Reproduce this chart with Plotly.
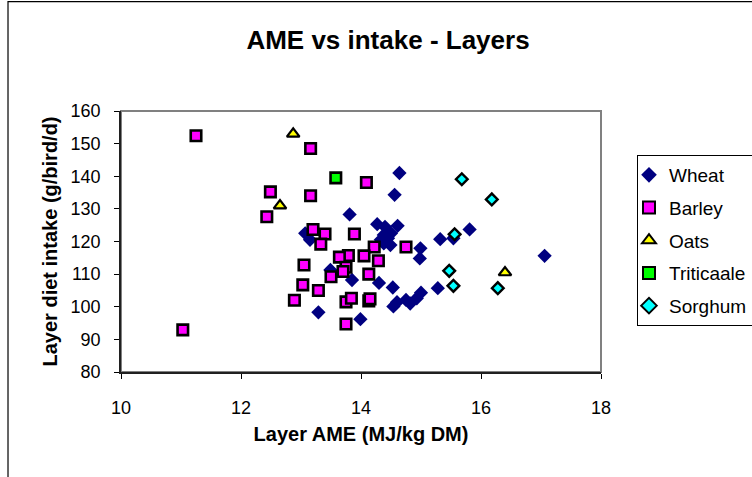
import plotly.graph_objects as go

# Layer AME (MJ/kg DM) and diet intake (g/bird/d) per grain type
wheat_x = [13.07, 13.15, 13.81, 14.64, 14.56, 14.27, 14.40, 14.61, 14.38, 14.45,
           14.33, 14.38, 14.49, 15.32, 15.54, 15.81, 14.99, 14.98, 17.06, 15.28,
           14.53, 14.30, 13.85, 13.49, 13.29, 13.99, 14.54, 14.60, 14.75, 14.93,
           15.00, 14.82, 14.50]
wheat_y = [122.5, 120.5, 128.3, 141.0, 134.3, 125.3, 124.5, 124.8, 122.0, 121.0,
           120.5, 119.4, 118.9, 120.7, 121.0, 123.7, 117.9, 114.8, 115.6, 105.7,
           105.9, 107.3, 108.2, 111.3, 98.3, 96.2, 100.1, 101.4, 102.1, 102.6,
           104.3, 101.0, 122.5]

barley_x = [11.25, 13.16, 14.09, 12.49, 13.16, 12.43, 13.20, 13.40, 13.89, 13.33,
            14.22, 14.75, 13.79, 13.64, 14.05, 14.29, 13.05, 13.75, 13.70, 13.50,
            14.13, 13.03, 13.29, 12.89, 13.75, 13.84, 14.13, 14.15, 13.75, 11.03]
barley_y = [152.4, 148.5, 138.1, 135.2, 134.0, 127.6, 123.7, 122.3, 122.3, 119.2,
            118.3, 118.3, 115.7, 115.2, 115.6, 114.1, 112.8, 112.1, 110.8, 109.2,
            110.0, 106.7, 105.0, 102.0, 101.5, 102.6, 101.8, 102.4, 94.7, 92.9]

oats_x = [12.87, 12.65, 16.40]
oats_y = [153.0, 131.0, 110.5]

triticale_x = [13.58]
triticale_y = [139.5]

sorghum_x = [15.68, 16.18, 15.56, 15.47, 15.54, 16.28]
sorghum_y = [139.1, 132.9, 122.2, 111.0, 106.4, 105.7]

x_ticks = [10, 12, 14, 16, 18]
y_ticks = [80, 90, 100, 110, 120, 130, 140, 150, 160]

FONT = "Liberation Sans, Arial, sans-serif"

fig = go.Figure()

series = [
    ("Wheat", wheat_x, wheat_y, "diamond", "#000080", 11, 0, "#000080"),
    ("Barley", barley_x, barley_y, "square", "#FF00FF", 10.5, 2.6, "#000000"),
    ("Oats", oats_x, oats_y, "triangle-up", "#FFFF00", 11, 2.2, "#000000"),
    ("Triticaale", triticale_x, triticale_y, "square", "#00FF00", 10.5, 2.6, "#000000"),
    ("Sorghum", sorghum_x, sorghum_y, "diamond", "#00FFFF", 9, 2.4, "#000000"),
]
for name, xs, ys, sym, col, size, lw, lc in series:
    fig.add_trace(go.Scatter(
        x=xs, y=ys, mode="markers", name=name, legendgroup=name,
        marker=dict(symbol=sym, color=col, size=size,
                    line=dict(width=lw, color=lc)),
    ))

# gray frame around the plotting area, outer chart frame
fig.add_shape(type="rect", xref="paper", yref="paper", x0=0, y0=0, x1=1, y1=1,
              line=dict(color="#808080", width=2), layer="below")
fig.add_shape(type="rect", xref="paper", yref="paper",
              x0=-0.2354, y0=-0.42, x1=1.34, y1=1.419,
              line=dict(color="#000000", width=1.2), layer="below")

fig.update_layout(
    width=752, height=477,
    margin=dict(l=121, r=151, t=111, b=105, autoexpand=False),
    paper_bgcolor="white", plot_bgcolor="white",
    font=dict(family=FONT, color="black", size=18),
    title=dict(text="<b>AME vs intake - Layers</b>", x=388 / 752, xanchor="center",
               y=1 - 40 / 477, yanchor="middle",
               font=dict(family=FONT, size=26, color="black")),
    showlegend=True,
    legend=dict(x=(637 - 121) / 480, y=(372 - 155) / 261, xanchor="left", yanchor="top",
                bordercolor="black", borderwidth=1, bgcolor="white",
                font=dict(family=FONT, size=19, color="black"),
                tracegroupgap=5, itemsizing="constant", indentation=-9),
    xaxis=dict(range=[10, 18], tickvals=x_ticks, ticks="outside", ticklen=5,
               tickcolor="black", showgrid=False, zeroline=False,
               showline=True, linecolor="#202020", linewidth=1.5,
               ticklabelstandoff=14,
               tickfont=dict(family=FONT, size=18, color="black"),
               title=dict(text="<b>Layer AME (MJ/kg DM)</b>", standoff=10,
                          font=dict(family=FONT, size=20, color="black"))),
    yaxis=dict(range=[80, 160], tickvals=y_ticks, ticks="outside", ticklen=5,
               tickcolor="black", showgrid=False, zeroline=False,
               showline=True, linecolor="#202020", linewidth=1.5,
               ticklabelstandoff=10,
               tickfont=dict(family=FONT, size=18, color="black"),
               title=dict(text="<b>Layer diet intake (g/bird/d)</b>", standoff=8,
                          font=dict(family=FONT, size=20, color="black"))),
)

fig.write_html("out.html")
